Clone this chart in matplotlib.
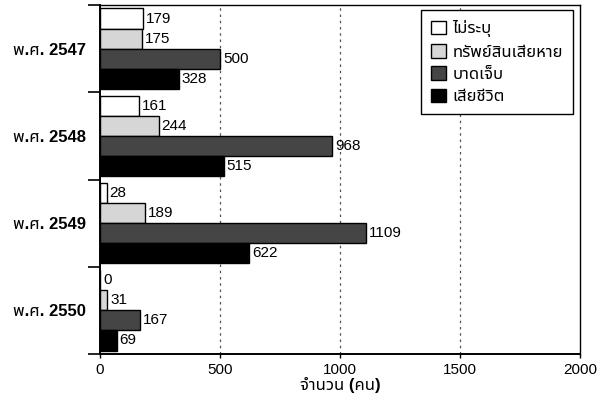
import matplotlib
matplotlib.use("Agg")
import numpy as np
import matplotlib.pyplot as plt
from matplotlib.ticker import FixedLocator

# ข้อมูลจากภาพ
ปี = ["พ.ศ. 2547", "พ.ศ. 2548", "พ.ศ. 2549", "พ.ศ. 2550"]
ชุด = ["ไม่ระบุ", "ทรัพย์สินเสียหาย", "บาดเจ็บ", "เสียชีวิต"]
ไม่ระบุ = [179, 161, 28, 0]
ทรัพย์สิน = [175, 244, 189, 31]
บาดเจ็บ = [500, 968, 1109, 167]
เสียชีวิต = [328, 515, 622, 69]

plt.rcParams["font.family"] = ["Liberation Sans", "Noto Sans Thai", "Sarabun", "Athiti", "DejaVu Sans"]

สี = ["white", "#d6d6d6", "#454545", "black"]
ค่า = [ไม่ระบุ, ทรัพย์สิน, บาดเจ็บ, เสียชีวิต]

fig = plt.figure(figsize=(5.97, 4.07), dpi=100)
ax = fig.add_axes([100 / 597, 1 - 354 / 407, 480 / 597, 349 / 407])

y = np.arange(len(ปี))
h = 0.23
for i in range(4):
    pos = y + (i - 1.5) * h
    ax.barh(pos, ค่า[i], height=h, color=สี[i], edgecolor="black", linewidth=1, label=ชุด[i], zorder=3)
    for p, v in zip(pos, ค่า[i]):
        ax.text(v + 12, p, str(v), va="center", ha="left", fontsize=11, zorder=4)

ax.set_xlim(0, 2000)
ax.set_ylim(3.5, -0.5)
ax.set_xticks([0, 500, 1000, 1500, 2000])
ax.tick_params(axis="x", labelsize=11, length=3, width=1)
ax.set_yticks(y)
ax.set_yticklabels(ปี, fontsize=12, fontweight="bold")
ax.tick_params(axis="y", which="major", length=0, pad=10)
ax.yaxis.set_minor_locator(FixedLocator([-0.5, 0.5, 1.5, 2.5, 3.5]))
ax.tick_params(axis="y", which="minor", length=9, width=1.2)

for gx in [500, 1000, 1500]:
    ax.axvline(gx, color="#555555", linestyle=(0, (2, 3)), linewidth=0.9, zorder=1)

for s in ["left", "bottom"]:
    ax.spines[s].set_linewidth(1.4)
for s in ["top", "right"]:
    ax.spines[s].set_linewidth(1)

ax.set_xlabel("จำนวน (คน)", fontsize=12, fontweight="bold", labelpad=0)

leg = ax.legend(loc="upper right", bbox_to_anchor=(0.985, 0.985), borderaxespad=0,
                fancybox=False, edgecolor="black", framealpha=1,
                handlelength=0.9, handleheight=0.9, handletextpad=0.35,
                labelspacing=0.4, borderpad=0.6, prop={"size": 12, "weight": "bold"})
leg.get_frame().set_linewidth(1)

fig.savefig("out.png", dpi=100)
